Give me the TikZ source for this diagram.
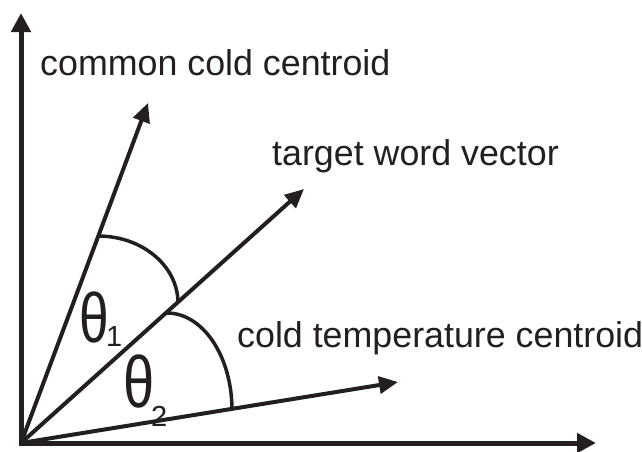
\documentclass[tikz,border=0pt]{standalone}
\usepackage{fontspec}
\setmainfont{Liberation Sans}
\usetikzlibrary{arrows.meta}
\definecolor{ink}{HTML}{231F20}
\tikzset{
  axis/.style={draw=ink, line width=5pt, -{Triangle[length=19pt,width=19pt]}},
  vec/.style={draw=ink, line width=4pt, -{Triangle[length=19pt,width=17pt]}},
  anglearc/.style={draw=ink, line width=3.5pt},
  lbl/.style={text=ink, anchor=base west, inner sep=0pt, font=\fontsize{35.8}{40}\selectfont},
  thet/.style={text=ink, anchor=base west, inner sep=0pt, font=\fontsize{56}{60}\selectfont},
  subs/.style={text=ink, anchor=base west, inner sep=0pt, font=\fontsize{29}{32}\selectfont}
}
\begin{document}
\begin{tikzpicture}[x=1pt,y=-1pt]
\useasboundingbox (0,0) rectangle (642,451);
\coordinate (O) at (21,443);
\coordinate (ytip) at (21,13);
\coordinate (xtip) at (596,443);
\coordinate (ctip) at (148,103);
\coordinate (ttip) at (304,189);
\coordinate (ktip) at (398,382);
\draw[axis] (21,445.5) -- (ytip);
\draw[axis] (18.5,443) -- (xtip);
\draw[vec] (O) -- (ctip);
\draw[vec] (O) -- (ttip);
\draw[vec] (O) -- (ktip);
\draw[anglearc] (98,236) arc[start angle=-90, end angle=0, x radius=80, y radius=67];
\draw[anglearc] (167,313) arc[start angle=-90, end angle=0, x radius=65, y radius=97];
\node[lbl] (lc) at (40,75) {common cold centroid};
\node[lbl] (lt) at (272,165) {target word vector};
\node[lbl] (lk) at (237,347) {cold temperature centroid};
\node[thet] (t1) at (79,342) {\scalebox{0.95}[1.25]{θ}};
\node[subs] (s1) at (106,346) {1};
\node[thet] (t2) at (123,407) {\scalebox{1.0}[1.3]{θ}};
\node[subs] (s2) at (151,426) {2};
\end{tikzpicture}
\end{document}
